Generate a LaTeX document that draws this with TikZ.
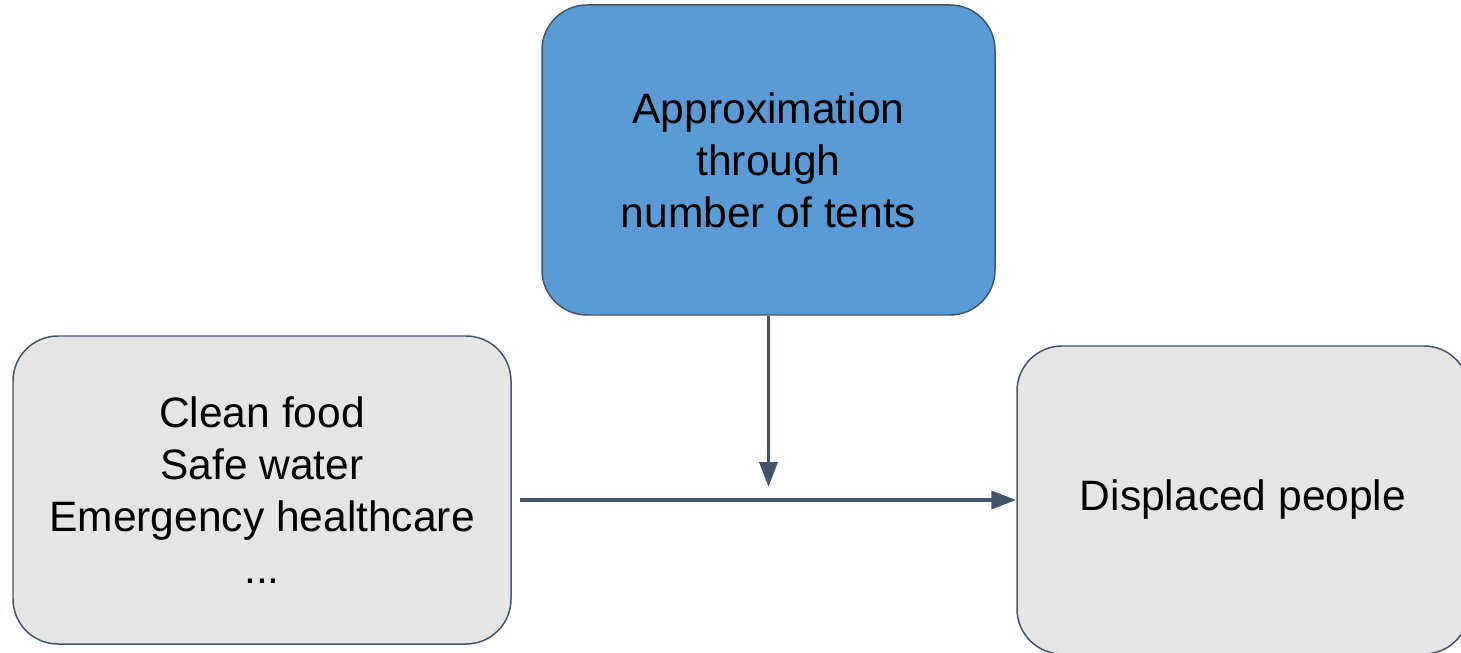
\documentclass[tikz,border=0pt]{standalone}
\usepackage{fontspec}
\setmainfont{Liberation Sans}
\usetikzlibrary{arrows.meta}

\definecolor{slate}{HTML}{44546A}
\definecolor{boxblue}{HTML}{5B9BD5}
\definecolor{boxgray}{HTML}{E5E5E5}

\begin{document}
\begin{tikzpicture}[thick,
    box/.style={draw=slate, line width=0.85pt, rounded corners=0.9cm, align=center,
                inner sep=0pt, font=\fontsize{24.2}{29.5}\selectfont},
    link/.style={draw=slate, line width=2.2pt, -{Triangle[length=5mm,width=3.6mm]}}]
    \useasboundingbox (0,0) rectangle (29.22,-13.06);
    \clip (0,0) rectangle (29.22,-13.06);
    \node[box] (tents) [fill=boxblue, minimum width=9.06cm, minimum height=6.2cm] at (15.37,-3.2)
        {Approximation\\through\\number of tents};
    \node[box] (needs) [fill=boxgray, minimum width=9.96cm, minimum height=6.16cm] at (5.24,-9.8)
        {Clean food\\Safe water\\Emergency healthcare\\...};
    \node[box] (people) [fill=boxgray, minimum width=9.04cm, minimum height=6.16cm] at (24.86,-10.0)
        {Displaced people};
    \coordinate (join) at ([yshift=0.26cm]tents.south |- people.west);
    \path
    (needs.east |- people.west) edge[link, shorten <=0.16cm] (people.west)
    (tents.south) edge[link] (join);
\end{tikzpicture}
\end{document}
